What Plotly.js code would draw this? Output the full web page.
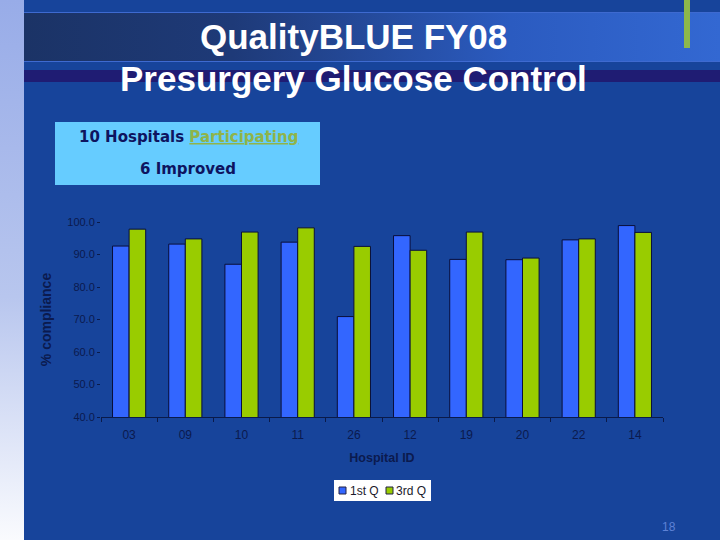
<!DOCTYPE html>
<html>
<head>
<meta charset="utf-8">
<script src="https://cdn.plot.ly/plotly-3.0.1.min.js"></script>
<style>
  html, body { margin:0; padding:0; }
  body { width:720px; height:540px; position:relative; overflow:hidden; background:#17449B; font-family:"Liberation Sans", Arial, sans-serif; }
  .deco { position:absolute; }
  #chart { position:absolute; left:0; top:0; width:720px; height:540px; }
</style>
</head>
<body>
<div class="deco" style="left:0;top:0;width:24px;height:540px;background:linear-gradient(to bottom,#98ACE8 0%,#B8C6EE 55%,#FAFBFE 100%);"></div>
<div class="deco" style="left:24px;top:12px;width:696px;height:48px;background:linear-gradient(to right,#1B3366 0%,#1E3A78 30%,#2B5BC0 70%,#3368D2 100%);border-top:1px solid #3E6AD0;border-bottom:1px solid #3E6AD0;"></div>
<div class="deco" style="left:24px;top:70px;width:696px;height:12px;background:#1F1C73;"></div>
<div class="deco" style="left:684px;top:0;width:6px;height:48px;background:#8DB84A;"></div>
<div class="deco" style="left:55px;top:122px;width:265px;height:63px;background:#66CCFF;"></div>
<div id="chart"></div>
<script>
const hospitals = ["03","09","10","11","26","12","19","20","22","14"];
const q1 = [92.6, 93.2, 87.0, 93.8, 70.9, 95.8, 88.5, 88.4, 94.5, 98.9];
const q3 = [97.8, 94.8, 96.9, 98.2, 92.5, 91.3, 96.9, 88.9, 94.8, 96.8];
const seriesNames = ["1st Q", "3rd Q"];
const seriesColors = ["#3366FF", "#99CC00"];
const yTicks = [40, 50, 60, 70, 80, 90, 100];

const W = 720, H = 540;
const L = 101, R = 663, T = 222, B = 417;
const dark = "#0B1A4E";
const px = x => (x - L) / (R - L);
const py = y => (B - y) / (B - T);

const traces = [
  { type:"bar", name:seriesNames[0], x:hospitals, y:q1, showlegend:false,
    marker:{color:seriesColors[0], line:{color:"#0A0F3A", width:1}} },
  { type:"bar", name:seriesNames[1], x:hospitals, y:q3, showlegend:false,
    marker:{color:seriesColors[1], line:{color:"#0A0F3A", width:1}} }
];

// compact legend (box + swatches + labels)
const legShapes = [
  {type:"rect", xref:"paper", yref:"paper", x0:px(334), x1:px(431), y0:py(480), y1:py(501),
   fillcolor:"#FFFFFF", line:{width:0}, layer:"above"},
  {type:"rect", xref:"paper", yref:"paper", x0:px(339), x1:px(346), y0:py(487), y1:py(494),
   fillcolor:seriesColors[0], line:{color:"#222244", width:1}, layer:"above"},
  {type:"rect", xref:"paper", yref:"paper", x0:px(386), x1:px(393), y0:py(487), y1:py(494),
   fillcolor:seriesColors[1], line:{color:"#222244", width:1}, layer:"above"}
];

const layout = {
  width:W, height:H,
  paper_bgcolor:"rgba(0,0,0,0)", plot_bgcolor:"rgba(0,0,0,0)",
  margin:{l:L, r:W-R, t:T, b:H-B, pad:0},
  font:{family:"Liberation Sans, Arial, sans-serif", color:dark, size:11},
  barmode:"group", bargap:0.41, bargroupgap:0,
  showlegend:false,
  xaxis:{type:"category", showline:true, linecolor:"#0A1A4A", linewidth:1,
    ticks:"outside", tickson:"boundaries", ticklen:4, tickcolor:"#0A1A4A",
    ticklabelstandoff:7,
    tickfont:{size:12, color:dark}, showgrid:false, zeroline:false,
    title:{text:"<b>Hospital ID</b>", font:{size:12.5, color:dark}, standoff:11}},
  yaxis:{range:[40,100], tickvals:yTicks, tickformat:".1f", showgrid:false,
    zeroline:false, showline:false, ticks:"outside", ticklen:3, tickcolor:"#0A1A4A",
    tickfont:{size:11, color:dark},
    title:{text:"<b>% compliance</b>", font:{size:14, color:dark}, standoff:12}},
  shapes: legShapes,
  annotations:[
    {text:"<b>QualityBLUE FY08</b>", xref:"paper", yref:"paper", x:px(353), y:py(36),
     showarrow:false, xanchor:"center", yanchor:"middle", font:{size:35, color:"#FFFFFF"}},
    {text:"<b>Presurgery Glucose Control</b>", xref:"paper", yref:"paper", x:px(353), y:py(78),
     showarrow:false, xanchor:"center", yanchor:"middle", font:{size:35, color:"#FFFFFF"}},
    {text:"<b>10 Hospitals <span style='color:#8FB44A'><u>Participating</u></span></b>", xref:"paper", yref:"paper",
     x:px(188), y:py(137), showarrow:false, xanchor:"center", yanchor:"middle",
     font:{family:"DejaVu Sans, Verdana, sans-serif", size:15, color:"#0E1460"}},
    {text:"<b>6 Improved</b>", xref:"paper", yref:"paper",
     x:px(188), y:py(169), showarrow:false, xanchor:"center", yanchor:"middle",
     font:{family:"DejaVu Sans, Verdana, sans-serif", size:15, color:"#0E1460"}},
    {text:seriesNames[0], xref:"paper", yref:"paper", x:px(348), y:py(490.5), showarrow:false,
     xanchor:"left", yanchor:"middle", font:{size:12, color:"#1A1A2A"}},
    {text:seriesNames[1], xref:"paper", yref:"paper", x:px(394), y:py(490.5), showarrow:false,
     xanchor:"left", yanchor:"middle", font:{size:12, color:"#1A1A2A"}},
    {text:"18", xref:"paper", yref:"paper", x:px(669), y:py(527), showarrow:false,
     xanchor:"center", yanchor:"middle", font:{size:12, color:"#5E82D6"}}
  ]
};

Plotly.newPlot("chart", traces, layout, {displayModeBar:false, staticPlot:true});
</script>
</body>
</html>
